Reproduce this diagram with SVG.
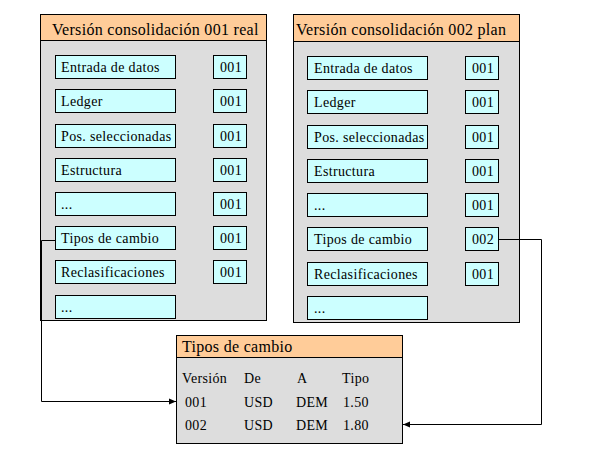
<svg xmlns="http://www.w3.org/2000/svg" width="602" height="451" viewBox="0 0 602 451">
<style>
.hdr{fill:#FFCC99;stroke:#000;stroke-width:1}
.body{fill:#DDDDDD;stroke:#000;stroke-width:1}
.item{fill:#CCFFFF;stroke:#000;stroke-width:1}
text{font-family:"Liberation Serif","Times New Roman","DejaVu Serif",serif;fill:#000}
.t{font-size:14px;letter-spacing:0.35px}
.h{font-size:16px;letter-spacing:0.3px}
.ln{fill:none;stroke:#000;stroke-width:1}
</style>
<defs>
<marker id="arr" markerWidth="8" markerHeight="8" refX="7" refY="4" orient="auto" markerUnits="userSpaceOnUse">
<path d="M0,1 L7,4 L0,7 Z" fill="#000"/>
</marker>
</defs>
<rect width="602" height="451" fill="#fff"/>
<g id="v001" font-family="Liberation Serif, serif">
<rect class="body" x="40.5" y="40.5" width="226" height="280"/>
<rect class="hdr" x="40.5" y="14.5" width="226" height="26"/>
<text class="h" x="52" y="35">Versión consolidación 001 real</text>
<rect class="item" x="55.5" y="55.5" width="120" height="23"/><text class="t" x="61" y="72">Entrada de datos</text>
<rect class="item" x="213.5" y="55.5" width="33" height="23"/><text class="t" x="220" y="72">001</text>
<rect class="item" x="55.5" y="89.5" width="120" height="23"/><text class="t" x="61" y="106">Ledger</text>
<rect class="item" x="213.5" y="89.5" width="33" height="23"/><text class="t" x="220" y="106">001</text>
<rect class="item" x="55.5" y="124.5" width="120" height="23"/><text class="t" x="61" y="141">Pos. seleccionadas</text>
<rect class="item" x="213.5" y="124.5" width="33" height="23"/><text class="t" x="220" y="141">001</text>
<rect class="item" x="55.5" y="158.5" width="120" height="23"/><text class="t" x="61" y="175">Estructura</text>
<rect class="item" x="213.5" y="158.5" width="33" height="23"/><text class="t" x="220" y="175">001</text>
<rect class="item" x="55.5" y="192.5" width="120" height="23"/><text class="t" x="61" y="209">...</text>
<rect class="item" x="213.5" y="192.5" width="33" height="23"/><text class="t" x="220" y="209">001</text>
<rect class="item" x="55.5" y="226.5" width="120" height="23"/><text class="t" x="61" y="243">Tipos de cambio</text>
<rect class="item" x="213.5" y="226.5" width="33" height="23"/><text class="t" x="220" y="243">001</text>
<rect class="item" x="55.5" y="260.5" width="120" height="23"/><text class="t" x="61" y="277">Reclasificaciones</text>
<rect class="item" x="213.5" y="260.5" width="33" height="23"/><text class="t" x="220" y="277">001</text>
<rect class="item" x="55.5" y="295.5" width="120" height="23"/><text class="t" x="61" y="312">...</text>
</g>
<g id="v002" font-family="Liberation Serif, serif">
<rect class="body" x="293.5" y="41.5" width="226" height="281"/>
<rect class="hdr" x="293.5" y="14.5" width="226" height="27"/>
<text class="h" x="296" y="35">Versión consolidación 002 plan</text>
<rect class="item" x="307.5" y="56.5" width="120" height="23"/><text class="t" x="314" y="73">Entrada de datos</text>
<rect class="item" x="465.5" y="56.5" width="33" height="23"/><text class="t" x="472" y="73">001</text>
<rect class="item" x="307.5" y="90.5" width="120" height="23"/><text class="t" x="314" y="107">Ledger</text>
<rect class="item" x="465.5" y="90.5" width="33" height="23"/><text class="t" x="472" y="107">001</text>
<rect class="item" x="307.5" y="125.5" width="120" height="23"/><text class="t" x="314" y="142">Pos. seleccionadas</text>
<rect class="item" x="465.5" y="125.5" width="33" height="23"/><text class="t" x="472" y="142">001</text>
<rect class="item" x="307.5" y="159.5" width="120" height="23"/><text class="t" x="314" y="176">Estructura</text>
<rect class="item" x="465.5" y="159.5" width="33" height="23"/><text class="t" x="472" y="176">001</text>
<rect class="item" x="307.5" y="193.5" width="120" height="23"/><text class="t" x="314" y="210">...</text>
<rect class="item" x="465.5" y="193.5" width="33" height="23"/><text class="t" x="472" y="210">001</text>
<rect class="item" x="307.5" y="227.5" width="120" height="23"/><text class="t" x="314" y="244">Tipos de cambio</text>
<rect class="item" x="465.5" y="227.5" width="33" height="23"/><text class="t" x="472" y="244">002</text>
<rect class="item" x="307.5" y="262.5" width="120" height="23"/><text class="t" x="314" y="279">Reclasificaciones</text>
<rect class="item" x="465.5" y="262.5" width="33" height="23"/><text class="t" x="472" y="279">001</text>
<rect class="item" x="307.5" y="296.5" width="120" height="23"/><text class="t" x="314" y="313">...</text>
</g>
<g id="tabla" font-family="Liberation Serif, serif">
<rect class="body" x="176.5" y="357.5" width="226" height="86"/>
<rect class="hdr" x="176.5" y="335.5" width="226" height="22"/>
<text class="h" x="182" y="352">Tipos de cambio</text>
<text class="t" x="182" y="383">Versión</text><text class="t" x="244" y="383">De</text><text class="t" x="297" y="383">A</text><text class="t" x="342" y="383">Tipo</text>
<text class="t" x="185" y="407">001</text><text class="t" x="244" y="407">USD</text><text class="t" x="296" y="407">DEM</text><text class="t" x="343" y="407">1.50</text>
<text class="t" x="185" y="430">002</text><text class="t" x="244" y="430">USD</text><text class="t" x="296" y="430">DEM</text><text class="t" x="343" y="430">1.80</text>
</g>
<g id="connectors">
<polyline class="ln" points="55.5,240.5 41.5,240.5 41.5,401.5 176,401.5" marker-end="url(#arr)"/>
<polyline class="ln" points="498.5,239.5 541.5,239.5 541.5,424.5 403,424.5" marker-end="url(#arr)"/>
</g>
</svg>
